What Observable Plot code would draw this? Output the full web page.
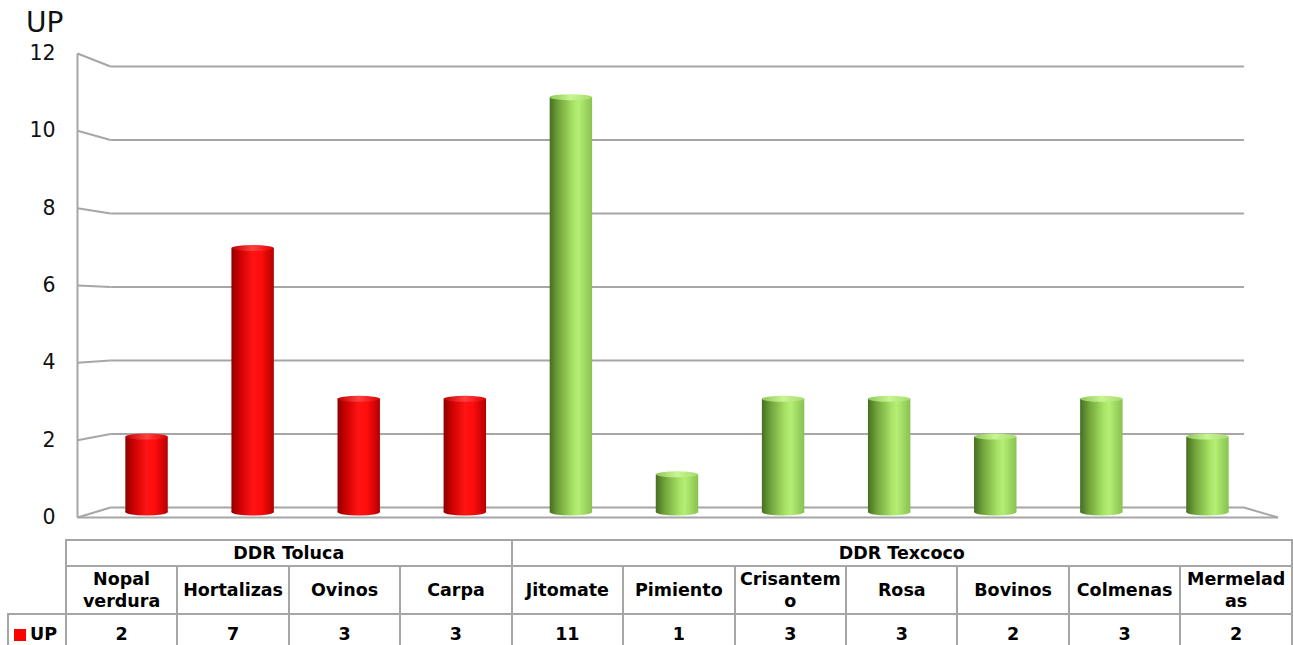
<!DOCTYPE html>
<html>
<head>
<meta charset="utf-8">
<script src="https://cdn.jsdelivr.net/npm/d3@7"></script>
<script src="https://cdn.jsdelivr.net/npm/@observablehq/plot@0.6"></script>
<style>
  body { margin: 0; background: #fff; }
  #wrap { position: relative; width: 1293px; height: 645px; overflow: hidden; font-family: "DejaVu Sans", sans-serif; color: #111; }
  #wrap svg { position: absolute; left: 0; top: 0; }
  #title { position: absolute; left: 26px; top: 9px; font-size: 28px; line-height: 28px; color: #111; }
  table { position: absolute; left: 7px; top: 539px; border-collapse: collapse; table-layout: fixed; }
  td { border: 2px solid #a6a6a6; text-align: center; vertical-align: middle; font-weight: bold; font-size: 17.5px; line-height: 22px; color: #000; padding: 0; white-space: pre-line; overflow: hidden; }
  td.blank { border: none; }
  .sw { display: inline-block; width: 12px; height: 12px; background: #ff0000; margin-right: 4px; vertical-align: -1px; }
</style>
</head>
<body>
<div id="wrap">
  <div id="title"></div>
</div>
<script>
// ---------------- data ----------------
const categories = ["Nopal verdura", "Hortalizas", "Ovinos", "Carpa", "Jitomate", "Pimiento", "Crisantemo", "Rosa", "Bovinos", "Colmenas", "Mermeladas"];
const tableLabels = ["Nopal\nverdura", "Hortalizas", "Ovinos", "Carpa", "Jitomate", "Pimiento", "Crisantem\no", "Rosa", "Bovinos", "Colmenas", "Mermelad\nas"];
const groupNames = ["DDR Toluca", "DDR Texcoco"];
const groupSizes = [4, 7];
const values = [2, 7, 3, 3, 11, 1, 3, 3, 2, 3, 2];
const yTicks = [0, 2, 4, 6, 8, 10, 12];
const seriesName = "UP";

// ---------------- layout (mid-depth frame of the 3D box) ----------------
const W = 1293, H = 540;
const n = categories.length;
const X0 = 93.5, SLOT = 106.09, Y0 = 512, UNIT = 37.71;
const shiftX = 16.5 / SLOT, shiftY = 5 / UNIT;   // per unit of depth (front -1, back +1)
const shrinkX = 3.05 / SLOT, shrinkY = 0.96 / UNIT;
const proj = (s, v, d) => ({ x: s * (1 - shrinkX * d) + shiftX * d, y: v * (1 - shrinkY * d) + shiftY * d });
const BW = 0.2; // half bar width in slots
const gridColor = "#a6a6a6";

const groupOf = [];
groupSizes.forEach((k, g) => { for (let j = 0; j < k; j++) groupOf.push(g); });
const bars = categories.map((c, i) => ({ i, c, value: values[i], g: groupOf[i] }));

// lines of the 3D frame
const seg = (a, b) => ({ x1: a.x, y1: a.y, x2: b.x, y2: b.y });
const backGrid = yTicks.map(v => seg(proj(0, v, 1), proj(n, v, 1)));
const sideGrid = yTicks.map(v => seg(proj(0, v, -1), proj(0, v, 1)));
const frameLines = [
  seg(proj(0, 0, -1), proj(0, yTicks[yTicks.length - 1], -1)),
  seg(proj(0, 0, -1), proj(n, 0, -1)),
  seg(proj(n, 0, -1), proj(n, 0, 1))
];
const tickPos = yTicks.map(v => ({ v, ...proj(0, v, -1) }));

const chart = Plot.plot({
  width: W, height: H,
  marginTop: 0, marginBottom: 0, marginLeft: 0, marginRight: 0,
  style: { fontFamily: "'DejaVu Sans', sans-serif", background: "transparent", overflow: "visible" },
  x: { type: "linear", domain: [0, n], range: [X0, X0 + n * SLOT], axis: null },
  y: { type: "linear", domain: [0, 12], range: [Y0, Y0 - 12 * UNIT], axis: null },
  marks: [
    Plot.link(backGrid, { x1: "x1", y1: "y1", x2: "x2", y2: "y2", stroke: gridColor, strokeWidth: 2 }),
    Plot.link(sideGrid, { x1: "x1", y1: "y1", x2: "x2", y2: "y2", stroke: gridColor, strokeWidth: 2 }),
    Plot.link(frameLines, { x1: "x1", y1: "y1", x2: "x2", y2: "y2", stroke: gridColor, strokeWidth: 2 }),
    Plot.text(tickPos, { x: "x", y: "y", text: d => String(d.v), textAnchor: "end", dx: -22, fontSize: 20.5, fill: "#111" }),
    Plot.rect(bars.filter(d => d.g === 0), { x1: d => d.i + 0.5 - BW, x2: d => d.i + 0.5 + BW, y1: 0, y2: "value", fill: "url(#gRed)" }),
    Plot.rect(bars.filter(d => d.g === 1), { x1: d => d.i + 0.5 - BW, x2: d => d.i + 0.5 + BW, y1: 0, y2: "value", fill: "url(#gGreen)" })
  ]
});

// gradients for the cylinders
const svg = d3.select(chart);
const defs = svg.insert("defs", ":first-child");
function grad(id, stops) {
  const g = defs.append("linearGradient").attr("id", id).attr("x1", 0).attr("x2", 1).attr("y1", 0).attr("y2", 0);
  stops.forEach(([o, c]) => g.append("stop").attr("offset", o).attr("stop-color", c));
}
grad("gRed", [[0, "#8e0000"], [0.18, "#c80000"], [0.5, "#ff1414"], [0.7, "#ff0c0c"], [1, "#b40000"]]);
grad("gGreen", [[0, "#466e22"], [0.2, "#6fa23a"], [0.55, "#a8e266"], [0.68, "#b4ee74"], [1, "#88c250"]]);
grad("gRedTop", [[0, "#c00000"], [0.5, "#ff4040"], [1, "#e00000"]]);
grad("gGreenTop", [[0, "#8ec85a"], [0.5, "#c8f592"], [1, "#a6dc6c"]]);

const xs = chart.scale("x"), ys = chart.scale("y");
const caps = svg.append("g");
bars.forEach(d => {
  const cx = xs.apply(d.i + 0.5);
  const rx = xs.apply(d.i + 0.5 + BW) - cx;
  caps.insert("ellipse", ":first-child").attr("cx", cx).attr("cy", ys.apply(0)).attr("rx", rx).attr("ry", 3.5)
    .attr("fill", d.g === 0 ? "url(#gRed)" : "url(#gGreen)");
  caps.append("ellipse").attr("cx", cx).attr("cy", ys.apply(d.value)).attr("rx", rx).attr("ry", 3)
    .attr("fill", d.g === 0 ? "url(#gRedTop)" : "url(#gGreenTop)");
});
// bottom ellipses behind bars
svg.node().insertBefore(caps.node(), svg.node().lastChild);
const wrap = document.getElementById("wrap");
wrap.insertBefore(chart, wrap.firstChild);
document.getElementById("title").textContent = seriesName;

// ---------------- data table ----------------
const table = d3.select("#wrap").append("table");
const cg = table.append("colgroup");
cg.append("col").style("width", "58px");
categories.forEach(() => cg.append("col").style("width", "111.6px"));
const r1 = table.append("tr").style("height", "26px");
r1.append("td").attr("class", "blank");
groupNames.forEach((g, k) => r1.append("td").attr("colspan", groupSizes[k]).text(g));
const r2 = table.append("tr").style("height", "48px");
r2.append("td").attr("class", "blank");
tableLabels.forEach(t => r2.append("td").text(t));
const r3 = table.append("tr").style("height", "40px");
const lc = r3.append("td").style("text-align", "left").style("padding-left", "5px");
lc.append("span").attr("class", "sw");
lc.append("span").text(seriesName);
values.forEach(v => r3.append("td").text(String(v)));
</script>
</body>
</html>
